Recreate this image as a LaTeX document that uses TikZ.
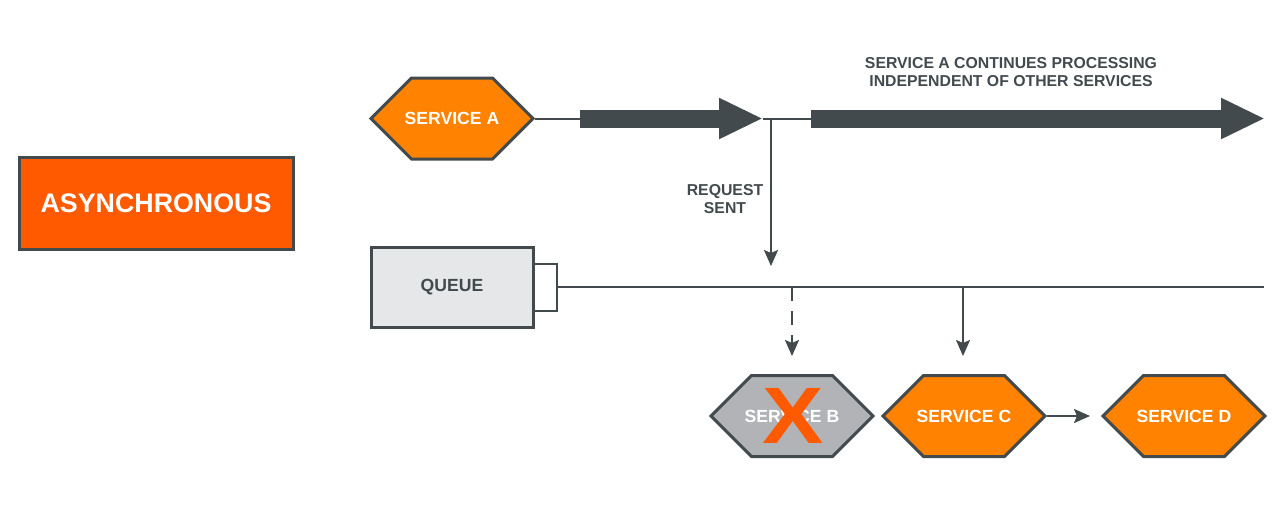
\documentclass[tikz,border=0pt]{standalone}
\usepackage{fontspec}
\setmainfont{Liberation Sans}
\usetikzlibrary{positioning, arrows.meta, shapes.symbols}

\definecolor{slate}{HTML}{434A4D}
\definecolor{amber}{HTML}{FF8200}
\definecolor{blaze}{HTML}{FF5A00}
\definecolor{ash}{HTML}{B1B3B6}
\definecolor{mist}{HTML}{E6E7E8}

\begin{document}
\begin{tikzpicture}[x=0.5pt, y=-0.5pt,
    hexa/.style={shape=signal, signal to=west and east, signal pointer angle=90,
        draw=slate, line width=1.5pt, fill=amber, minimum width=81pt, minimum height=40.5pt,
        inner ysep=0pt, inner xsep=-4pt, text=white, font=\bfseries\fontsize{8.8}{10}\selectfont},
    wire/.style={slate, line width=1pt},
    tip/.style={-{Stealth[length=8pt, width=7pt, inset=1.5pt]}},
    fat/.style={slate, line width=9pt, -{Triangle[length=22pt, width=19pt]}},
    note/.style={text=slate, align=center, font=\bfseries\fontsize{7.9}{8.8}\selectfont}]
    \useasboundingbox (0,0) rectangle (1284,510);

    \node[draw=slate, line width=1.5pt, fill=blaze, minimum width=137pt, minimum height=46pt,
          text=white, font=\bfseries\fontsize{13.4}{15}\selectfont] (async) at (156,203) {ASYNCHRONOUS};

    \node[hexa] (svcA) at (452,118.5) {SERVICE A};
    \node[draw=slate, line width=1.5pt, fill=mist, minimum width=81pt, minimum height=40pt,
          text=slate, font=\bfseries\fontsize{8.8}{10}\selectfont] (queue) at (452,287) {QUEUE};
    \node[draw=slate, line width=1pt, fill=white, minimum width=11.5pt, minimum height=23.5pt,
          inner sep=0pt, anchor=west, xshift=-1pt] (qport) at (queue.east) {};

    \node[hexa, fill=ash] (svcB) at (792,416) {SERVICE B};
    \node[hexa] (svcC) at (964,416) {SERVICE C};
    \node[hexa] (svcD) at (1184,416) {SERVICE D};
    \node[text=blaze, inner sep=0pt, font=\bfseries\fontsize{40}{40}\selectfont,
          xscale=1.15] (cross) at (793,416) {X};

    \node[note] (goon) at (1011,72) {SERVICE A CONTINUES PROCESSING\\INDEPENDENT OF OTHER SERVICES};
    \node[note] (sent) at (725,199) {REQUEST\\SENT};

    % main timeline of service A
    \coordinate (b1s) at (580,118.5);
    \coordinate (b1e) at (763,118.5);
    \coordinate (b2s) at (811,118.5);
    \coordinate (b2e) at (1265,118.5);
    \coordinate (split) at (771,118.5);
    \coordinate (drop) at (771,266);
    \draw[wire] (svcA.east) -- (b1s);
    \draw[fat] (b1s) -- (b1e);
    \draw[wire] (b1e) -- (b2s);
    \draw[fat] (b2s) -- (b2e);
    \draw[wire, tip] (split) -- (drop);

    % queue line and consumers
    \coordinate (qend) at (1264,287);
    \coordinate (tapB) at (792,287);
    \coordinate (tapC) at (963,287);
    \coordinate (inB) at (792,356);
    \coordinate (inC) at (963,356);
    \coordinate (toD) at (1090,416);
    \draw[wire] (qport.east) -- (qend);
    \draw[wire, tip, dash pattern=on 7pt off 5pt] (tapB) -- (inB);
    \draw[wire, tip] (tapC) -- (inC);
    \draw[wire, tip] (svcC.east) -- (toD);
\end{tikzpicture}
\end{document}
